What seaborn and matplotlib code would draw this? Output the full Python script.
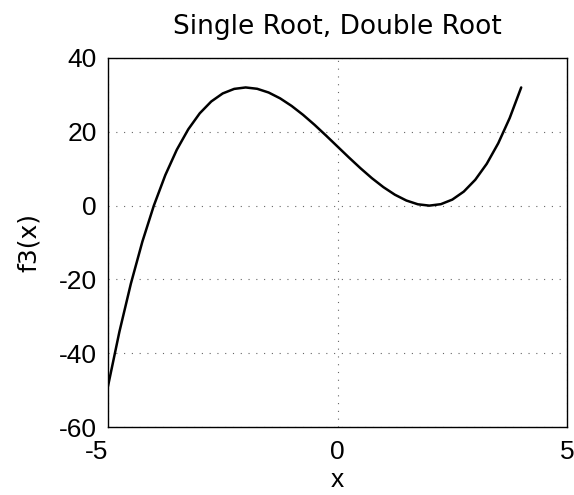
import matplotlib
matplotlib.use("Agg")
import matplotlib.pyplot as plt
import seaborn as sns
import pandas as pd

x_vals = [-5, -4.75, -4.5, -4.25, -4, -3.75, -3.5, -3.25, -3, -2.75, -2.5, -2.25, -2,
          -1.75, -1.5, -1.25, -1, -0.75, -0.5, -0.25, 0, 0.25, 0.5, 0.75, 1, 1.25, 1.5,
          1.75, 2, 2.25, 2.5, 2.75, 3, 3.25, 3.5, 3.75, 4]
f3_vals = [-49, -34.17, -21.13, -9.77, 0, 8.27, 15.13, 20.67, 25, 28.2, 30.38, 31.61, 32,
           31.64, 30.63, 29.05, 27, 24.58, 21.88, 18.98, 16, 13.02, 10.13, 7.42, 5, 2.95, 1.38,
           0.36, 0, 0.39, 1.63, 3.8, 7, 11.33, 16.88, 23.73, 32]
x_ticks = [-5, 0, 5]
y_ticks = [-60, -40, -20, 0, 20, 40]

sns.set_style("white")
plt.rcParams['font.family'] = ['Liberation Sans', 'DejaVu Sans']
plt.rcParams['axes.unicode_minus'] = False
plt.rcParams['text.color'] = 'black'
plt.rcParams['axes.labelcolor'] = 'black'

fig = plt.figure(figsize=(5.74, 4.95), dpi=100)
ax = fig.add_axes([0.188, 0.137, 0.800, 0.746])

df = pd.DataFrame({"x": x_vals, "f3": f3_vals})
sns.lineplot(data=df, x="x", y="f3", ax=ax, color="black", linewidth=1.8, sort=False)

ax.set_xlim(-5, 5)
ax.set_ylim(-60, 40)
ax.set_xticks(x_ticks)
ax.set_yticks(y_ticks)
ax.grid(True, linestyle=(0, (1, 6)), color="#666666", linewidth=0.8)
ax.tick_params(axis="both", direction="in", length=4, labelsize=19, colors="black")
ax.tick_params(axis="y", pad=8)
ax.tick_params(axis="x", pad=9)
ax.get_xticklabels()[0].set_horizontalalignment("right")
for s in ax.spines.values():
    s.set_color("black")
    s.set_linewidth(1.0)
ax.set_xlabel("x", fontsize=19, labelpad=3, color="black")
ax.set_ylabel("f3(x)", fontsize=18, labelpad=13, family="DejaVu Sans", color="black")
ax.set_title("Single Root, Double Root", fontsize=19, pad=17, family="DejaVu Sans", color="black")

fig.savefig("out.png", dpi=100)
